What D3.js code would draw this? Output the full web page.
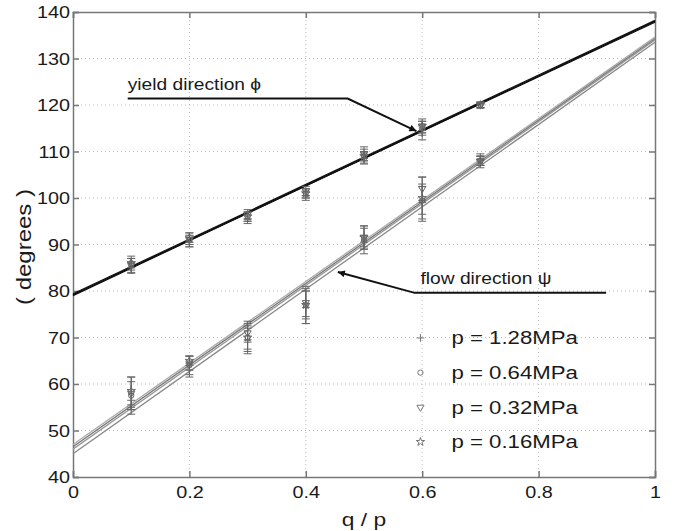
<!DOCTYPE html>
<html>
<head>
<meta charset="utf-8">
<script src="https://cdn.jsdelivr.net/npm/d3@7"></script>
<style>
  body { margin: 0; background: #fff; }
  text { font-family: "Liberation Sans", Arial, sans-serif; fill: #1a1a1a; }
</style>
</head>
<body>
<div id="chart"></div>
<script>
// data
const qp = [0.1, 0.2, 0.3, 0.4, 0.5, 0.6, 0.7]
const pressures = ["p = 1.28MPa", "p = 0.64MPa", "p = 0.32MPa", "p = 0.16MPa"]
const markers = ["plus", "circle", "triangle", "star"]

const yieldVals = [
  [85, 90.5, 95.5, 100.5, 108.5, 114, 120],
  [86, 91, 96, 101, 109, 115, 120],
  [85.5, 91, 96.5, 101.5, 109.5, 115.5, 120],
  [86, 91.5, 96, 101, 109, 115.5, 120]
]
const yieldErr = [
  [1.2, 1, 1, 1, 1.2, 1.5, 0.6],
  [1.5, 1, 1, 1, 1.5, 1.5, 0.6],
  [1.5, 1.5, 1, 1, 1.5, 1, 0.6],
  [1, 1, 1, 1, 1, 1.5, 0.6]
]
const flowVals = [
  [55, 63, 69.5, 76.5, 90.5, 99, 108],
  [57.5, 64, 70, 77, 91, 99.5, 108],
  [58, 64.5, 71, 77.5, 91.5, 102, 108],
  [58.5, 65, 70, 77, 91.5, 100, 108]
]
const flowErr = [
  [1.5, 1.5, 2.5, 3.5, 1.5, 4, 1.5],
  [3, 2, 2.5, 4, 3, 3, 1],
  [3.5, 1.5, 2, 3, 2.5, 2.5, 1],
  [3, 1, 3.5, 3, 2, 4.5, 1]
]
// fitted lines: value at q/p = 0 and q/p = 1
const yieldFit = [[79, 138], [79.2, 138], [79.4, 138.2], [79.2, 137.8]]
const flowFit = [[45, 133.5], [46, 134], [46.5, 134.3], [47, 134.6]]

const width = 676
const height = 531
const margin = {left: 73, right: 20, top: 12, bottom: 54}
const stretchX = 1.2  // text in the figure is a little wide

const svg = d3.select("#chart")
  .append("svg")
    .attr("width", width)
    .attr("height", height)

const x = d3.scaleLinear().domain([0, 1]).range([margin.left, width - margin.right - 1])
const y = d3.scaleLinear().domain([40, 140]).range([height - margin.bottom, margin.top])

const xTicks = [0, 0.2, 0.4, 0.6, 0.8, 1]
const yTicks = d3.range(40, 141, 10)

// widen text along its baseline, keeping the anchor point
function stretch(sel) {
  sel.each(function() {
    const t = d3.select(this)
    const tx = +t.attr("x") || 0
    const prev = t.attr("transform") || ""
    t.attr("x", tx / stretchX).attr("transform", prev + ` scale(${stretchX},1)`)
  })
}

// dotted grid
svg.append("g")
  .selectAll("line")
  .data(xTicks.slice(1, -1))
  .join("line")
    .attr("x1", d => x(d)).attr("x2", d => x(d))
    .attr("y1", y(40)).attr("y2", y(140))
    .attr("stroke", "#bbb").attr("stroke-dasharray", "1,3")
svg.append("g")
  .selectAll("line")
  .data(yTicks.slice(1, -1))
  .join("line")
    .attr("x1", x(0)).attr("x2", x(1))
    .attr("y1", d => y(d)).attr("y2", d => y(d))
    .attr("stroke", "#bbb").attr("stroke-dasharray", "1,3")

// axes, ticks pointing inward
const axisColor = "#777"
const xAxis = svg.append("g")
  .attr("transform", `translate(0,${y(40)})`)
  .call(d3.axisBottom(x).tickValues(xTicks).tickSize(-6).tickPadding(9).tickFormat(d3.format("~g")))
const yAxis = svg.append("g")
  .attr("transform", `translate(${x(0)},0)`)
  .call(d3.axisLeft(y).tickValues(yTicks).tickSize(-6).tickPadding(3))
svg.append("g")
  .attr("transform", `translate(0,${y(140)})`)
  .call(d3.axisTop(x).tickValues(xTicks).tickSize(-6).tickFormat(""))
svg.append("g")
  .attr("transform", `translate(${x(1)},0)`)
  .call(d3.axisRight(y).tickValues(yTicks).tickSize(-6).tickFormat(""))
svg.selectAll(".domain, .tick line").attr("stroke", axisColor).attr("stroke-width", 1.5)
xAxis.selectAll("text").style("font-size", "16.5px").attr("fill", "#1a1a1a").call(stretch)
yAxis.selectAll("text").style("font-size", "16.5px").attr("fill", "#1a1a1a")
  .attr("dy", "0.35em").call(stretch)

// fitted lines
const fitLine = (f) => d3.line().x(d => x(d)).y(d => y(f[0] + (f[1] - f[0]) * d))([0, 1])
svg.append("g")
  .selectAll("path")
  .data(flowFit)
  .join("path")
    .attr("d", fitLine)
    .attr("fill", "none")
    .attr("stroke", (d, i) => ["#888", "#999", "#777", "#aaa"][i])
    .attr("stroke-width", 1.3)
svg.append("g")
  .selectAll("path")
  .data(yieldFit)
  .join("path")
    .attr("d", fitLine)
    .attr("fill", "none")
    .attr("stroke", "#111")
    .attr("stroke-width", 1.2)

// markers
const symbolFor = {
  plus: d3.symbol().type(d3.symbolPlus).size(22),
  circle: d3.symbol().type(d3.symbolCircle).size(22),
  triangle: d3.symbol().type(d3.symbolTriangle).size(22),
  star: d3.symbol().type(d3.symbolStar).size(22)
}
function drawSeries(vals, errs) {
  vals.forEach((series, s) => {
    const g = svg.append("g")
    const pts = qp.map((q, i) => ({q, v: series[i], e: errs[s][i]}))
    // error bars
    g.selectAll("path.err")
      .data(pts)
      .join("path")
        .attr("class", "err")
        .attr("d", d => {
          const cx = x(d.q), t = y(d.v + d.e), b = y(d.v - d.e)
          return `M${cx - 4},${t}H${cx + 4}M${cx},${t}V${b}M${cx - 4},${b}H${cx + 4}`
        })
        .attr("fill", "none")
        .attr("stroke", "#666")
        .attr("stroke-width", 1)
    g.selectAll("path.mk")
      .data(pts)
      .join("path")
        .attr("class", "mk")
        .attr("transform", d => `translate(${x(d.q)},${y(d.v)})` + (markers[s] == "triangle" ? " rotate(180)" : ""))
        .attr("d", symbolFor[markers[s]]())
        .attr("fill", "none")
        .attr("stroke", "#666")
        .attr("stroke-width", 1)
  })
}
drawSeries(yieldVals, yieldErr)
drawSeries(flowVals, flowErr)

// annotations with arrows
svg.append("defs").append("marker")
    .attr("id", "arrow")
    .attr("viewBox", "0 0 10 10")
    .attr("refX", 10).attr("refY", 5)
    .attr("markerWidth", 9).attr("markerHeight", 7)
    .attr("markerUnits", "userSpaceOnUse")
    .attr("orient", "auto")
  .append("path")
    .attr("d", "M0,0L10,5L0,10z")
    .attr("fill", "#111")

svg.append("path")
  .attr("d", `M${x(0.094)},${y(121.4)}H${x(0.472)}L${x(0.59)},${y(114.4)}`)
  .attr("fill", "none").attr("stroke", "#111").attr("stroke-width", 2)
  .attr("marker-end", "url(#arrow)")
svg.append("text")
  .attr("x", x(0.094)).attr("y", y(123.2))
  .style("font-size", "16px")
  .text("yield direction ϕ")
  .call(stretch)

svg.append("path")
  .attr("d", `M${x(0.916)},${y(79.6)}H${x(0.587)}L${x(0.455)},${y(84.1)}`)
  .attr("fill", "none").attr("stroke", "#111").attr("stroke-width", 2)
  .attr("marker-end", "url(#arrow)")
svg.append("text")
  .attr("x", x(0.597)).attr("y", y(81.5))
  .style("font-size", "16px")
  .text("flow direction ψ")
  .call(stretch)

// legend
const legend = svg.append("g")
  .selectAll("g")
  .data(pressures)
  .join("g")
    .attr("transform", (d, i) => `translate(${x(0.597)},${y(69.9 - i * 7.45)})`)
legend.append("path")
  .attr("transform", (d, i) => markers[i] == "triangle" ? "rotate(180)" : null)
  .attr("d", (d, i) => symbolFor[markers[i]]())
  .attr("fill", "none")
  .attr("stroke", "#777")
legend.append("text")
  .attr("x", 31).attr("dy", "0.35em")
  .style("font-size", "18.5px")
  .text(d => d)
  .call(stretch)

// axis titles
svg.append("text")
  .attr("x", (x(0) + x(1)) / 2).attr("y", height - 5)
  .attr("text-anchor", "middle")
  .style("font-size", "19px")
  .text("q / p")
  .call(stretch)
svg.append("text")
  .attr("transform", `translate(31,247) rotate(-90)`)
  .attr("text-anchor", "middle")
  .style("font-size", "20px")
  .text("( degrees )")
  .call(stretch)
</script>
</body>
</html>
